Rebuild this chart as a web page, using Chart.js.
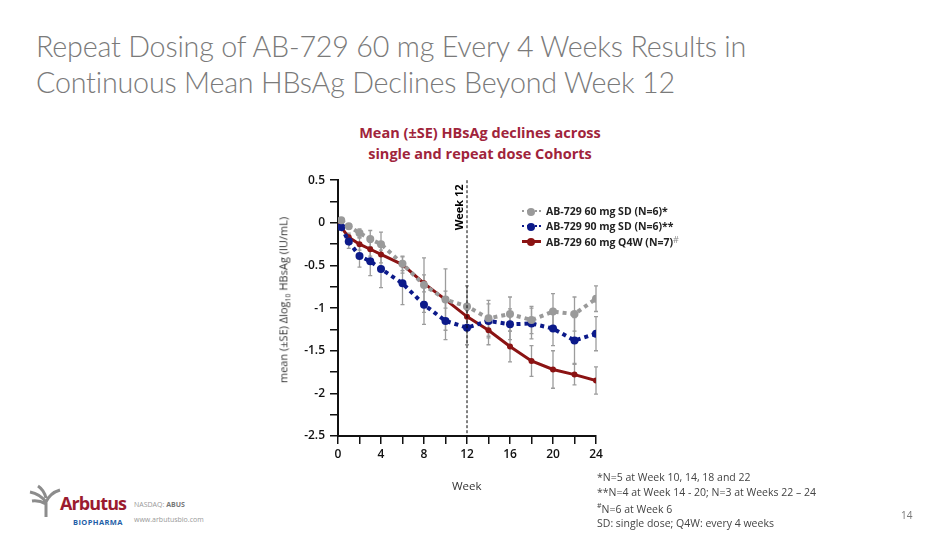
<!DOCTYPE html>
<html>
<head>
  <meta charset="UTF-8">
  <title>AB-729 HBsAg declines</title>
  <script src="https://cdn.jsdelivr.net/npm/chart.js@4.4.1/dist/chart.umd.min.js"></script>
  <style>
    body { margin: 0; width: 950px; height: 534px; background: #fff; font-family: "Open Sans", sans-serif; position: relative; overflow: hidden; }
    .abs { position: absolute; }
    h1 { position: absolute; left: 36px; top: 28px; margin: 0; font-family: Lato, sans-serif; font-weight: 300; font-size: 28.7px; line-height: 36px; color: #7a7a7a; letter-spacing: -0.2px; }
    .ctitle { left: 270px; top: 122px; width: 420px; text-align: center; color: #a0243b; font-weight: 700; font-size: 14.5px; line-height: 21px; }
    #wrap { left: 250px; top: 168px; width: 360px; height: 320px; }
    .ylab { left: 284px; top: 300px; transform: translate(-50%, -50%) rotate(-90deg); white-space: nowrap; font-size: 11px; color: #333; }
    .xlab { left: 452px; top: 478px; font-size: 11.5px; color: #333; }
    .legend { left: 522px; top: 203px; font-size: 10.5px; font-weight: 700; color: #222; }
    .legend div { height: 15.5px; display: flex; align-items: center; }
    .legend .ln { position: relative; width: 19px; height: 0; margin-right: 5px; }
    .legend .dot { position: absolute; left: 5px; top: -4px; width: 8px; height: 8px; border-radius: 50%; }
    .notes { left: 597px; top: 470px; font-size: 10.5px; line-height: 14.5px; color: #444; }
    .page { left: 901px; top: 508px; font-size: 10px; color: #777; }
  </style>
</head>
<body>
  <h1>Repeat Dosing of AB-729 60 mg Every 4 Weeks Results in<br>Continuous Mean HBsAg Declines Beyond Week 12</h1>
  <div class="abs ctitle">Mean (±SE) HBsAg declines across<br>single and repeat dose Cohorts</div>
  <div class="abs" id="wrap"><canvas id="chart"></canvas></div>
  <div class="abs ylab">mean (±SE) Δlog<sub style="font-size:7px">10</sub> HBsAg (IU/mL)</div>
  <div class="abs xlab">Week</div>
  <div class="abs legend">
    <div><span class="ln" style="border-top:2px dotted #9a9a9a"><span class="dot" style="background:#9a9a9a"></span></span>AB-729 60 mg SD (N=6)*</div>
    <div><span class="ln" style="border-top:2px dotted #0c1a8a"><span class="dot" style="background:#0c1a8a"></span></span>AB-729 90 mg SD (N=6)**</div>
    <div><span class="ln" style="border-top:3px solid #8b1313"><span class="dot" style="background:#8b1313;top:-5px"></span></span>AB-729 60 mg Q4W (N=7)<sup style="font-weight:400;color:#888;font-size:9px;position:relative;top:-2px">#</sup></div>
  </div>
  <div class="abs notes">*N=5 at Week 10, 14, 18 and 22<br>**N=4 at Week 14 - 20; N=3 at Weeks 22 – 24<br><sup style="font-size:7px">#</sup>N=6 at Week 6<br>SD: single dose; Q4W: every 4 weeks</div>
  <div class="abs page">14</div>

  <!-- logo -->
  <svg class="abs" style="left:26px;top:484px" width="40" height="34" viewBox="0 0 40 34">
    <path d="M20 33 L20 18 Q14 10 4 8 M20 18 Q24 9 34 6 M20 20 Q13 16 6 17 M20 14 Q18 6 12 2" stroke="#8c8c8c" stroke-width="3" fill="none"/>
  </svg>
  <div class="abs" style="left:60px;top:491px;font-family:'Open Sans';font-weight:700;font-size:18px;color:#9b1b2f;letter-spacing:-0.9px">Arbutus</div>
  <div class="abs" style="left:73px;top:517px;font-weight:700;font-size:7.5px;color:#1f5fa8;letter-spacing:0.4px">BIOPHARMA</div>
  <div class="abs" style="left:134px;top:500px;font-size:7px;color:#999">NASDAQ: <b style="color:#777">ABUS</b></div>
  <div class="abs" style="left:134px;top:515px;font-size:7px;color:#999">www.arbutusbio.com</div>

  <script>
    // weeks (first SD points sit slightly right of day 0 in the source)
    const sdWeeks  = [0.3, 1, 2, 3, 4, 6, 8, 10, 12, 14, 16, 18, 20, 22, 24];
    const q4wWeeks = [0, 1, 2, 3, 4, 6, 8, 10, 12, 14, 16, 18, 20, 22, 24];

    const sd60  = [0.03, -0.04, -0.12, -0.19, -0.25, -0.48, -0.73, -0.90, -0.98, -1.12, -1.07, -1.14, -1.04, -1.07, -0.89];
    const sd90  = [-0.05, -0.22, -0.39, -0.45, -0.54, -0.71, -0.96, -1.15, -1.23, -1.15, -1.19, -1.18, -1.24, -1.38, -1.30];
    const q4w60 = [0, -0.17, -0.25, -0.31, -0.37, -0.49, -0.71, -0.90, -1.10, -1.26, -1.45, -1.62, -1.72, -1.78, -1.85];

    const sd60SE  = [0, 0.03, 0.05, 0.10, 0.14, 0.08, 0.32, 0.36, 0.24, 0.21, 0.20, 0.16, 0.21, 0.20, 0.15];
    const sd90SE  = [0, 0.08, 0.13, 0.17, 0.22, 0.25, 0.23, 0.22, 0.20, 0.20, 0.18, 0.18, 0.20, 0.27, 0.20];
    const q4w60SE = [0, 0.05, 0.07, 0.08, 0.10, 0.10, 0.10, 0.10, 0.10, 0.17, 0.18, 0.18, 0.22, 0.12, 0.16];

    const yTicks = [0.5, 0, -0.5, -1, -1.5, -2, -2.5];
    const xTicks = [0, 4, 8, 12, 16, 20, 24];
    const markerWeek = 12;

    const pts = (xs, ys) => xs.map((x, i) => ({ x: x, y: ys[i] }));

    // gray SE whiskers, drawn under the lines
    const errorBars = {
      id: 'errorBars',
      beforeDatasetsDraw(chart) {
        const ctx = chart.ctx, xs = chart.scales.x, ys = chart.scales.y;
        const sets = [[sdWeeks, sd60, sd60SE], [sdWeeks, sd90, sd90SE], [q4wWeeks, q4w60, q4w60SE]];
        ctx.save();
        ctx.strokeStyle = '#9c9c9c';
        ctx.lineWidth = 1.3;
        sets.forEach(([w, v, se]) => {
          w.forEach((wk, i) => {
            if (!se[i]) return;
            const px = xs.getPixelForValue(wk);
            const top = ys.getPixelForValue(v[i] + se[i]);
            const bot = ys.getPixelForValue(v[i] - se[i]);
            ctx.beginPath();
            ctx.moveTo(px, top); ctx.lineTo(px, bot);
            ctx.moveTo(px - 2, top); ctx.lineTo(px + 2, top);
            ctx.moveTo(px - 2, bot); ctx.lineTo(px + 2, bot);
            ctx.stroke();
          });
        });
        ctx.restore();
      }
    };

    // dashed "Week 12" reference line
    const weekLine = {
      id: 'weekLine',
      afterDatasetsDraw(chart) {
        const ctx = chart.ctx, xs = chart.scales.x, ys = chart.scales.y;
        const px = xs.getPixelForValue(markerWeek);
        ctx.save();
        ctx.strokeStyle = '#000';
        ctx.lineWidth = 1;
        ctx.setLineDash([3, 2]);
        ctx.beginPath();
        ctx.moveTo(px, ys.getPixelForValue(0.5));
        ctx.lineTo(px, ys.getPixelForValue(-2.5));
        ctx.stroke();
        ctx.setLineDash([]);
        ctx.translate(px - 4, ys.getPixelForValue(0.45));
        ctx.rotate(-Math.PI / 2);
        ctx.fillStyle = '#000';
        ctx.font = '700 11px "Open Sans"';
        ctx.textAlign = 'right';
        ctx.fillText('Week 12', 0, 0);
        ctx.restore();
      }
    };

    new Chart(document.getElementById('chart'), {
      type: 'line',
      data: {
        datasets: [
          { label: 'AB-729 60 mg SD (N=6)*', data: pts(sdWeeks, sd60), borderColor: '#9a9a9a', backgroundColor: '#9a9a9a',
            borderWidth: 4, borderDash: [4, 4], pointRadius: 4, pointBorderWidth: 0 },
          { label: 'AB-729 90 mg SD (N=6)**', data: pts(sdWeeks, sd90), borderColor: '#0c1a8a', backgroundColor: '#0c1a8a',
            borderWidth: 4, borderDash: [4, 4], pointRadius: 4, pointBorderWidth: 0 },
          { label: 'AB-729 60 mg Q4W (N=7)', data: pts(q4wWeeks, q4w60), borderColor: '#8b1313', backgroundColor: '#8b1313',
            borderWidth: 3, pointRadius: 3, pointBorderWidth: 0 }
        ]
      },
      options: {
        responsive: true,
        maintainAspectRatio: false,
        animation: false,
        layout: { padding: { top: 7, right: 14, left: 0, bottom: 0 } },
        plugins: { legend: { display: false }, tooltip: { enabled: false } },
        scales: {
          x: {
            type: 'linear', min: 0, max: 24,
            afterFit: s => { s.height = 52; },
            border: { color: '#111', width: 2 },
            grid: { drawOnChartArea: false, color: '#111', lineWidth: 1.5, tickLength: 8 },
            ticks: { stepSize: 2, autoSkip: false, maxRotation: 0, color: '#111', padding: 3,
              font: { family: 'Open Sans', size: 12, weight: '600' },
              callback: v => xTicks.includes(v) ? String(v) : '' }
          },
          y: {
            min: -2.5, max: 0.5,
            afterFit: s => { s.width = 88; },
            border: { color: '#111', width: 2 },
            grid: { drawOnChartArea: false, color: '#111', lineWidth: 1.5, tickLength: 8 },
            ticks: { stepSize: 0.25, autoSkip: false, color: '#111', padding: 5,
              font: { family: 'Open Sans', size: 12, weight: '600' },
              callback: v => yTicks.includes(v) ? String(v) : '' }
          }
        }
      },
      plugins: [errorBars, weekLine]
    });
  </script>
</body>
</html>
